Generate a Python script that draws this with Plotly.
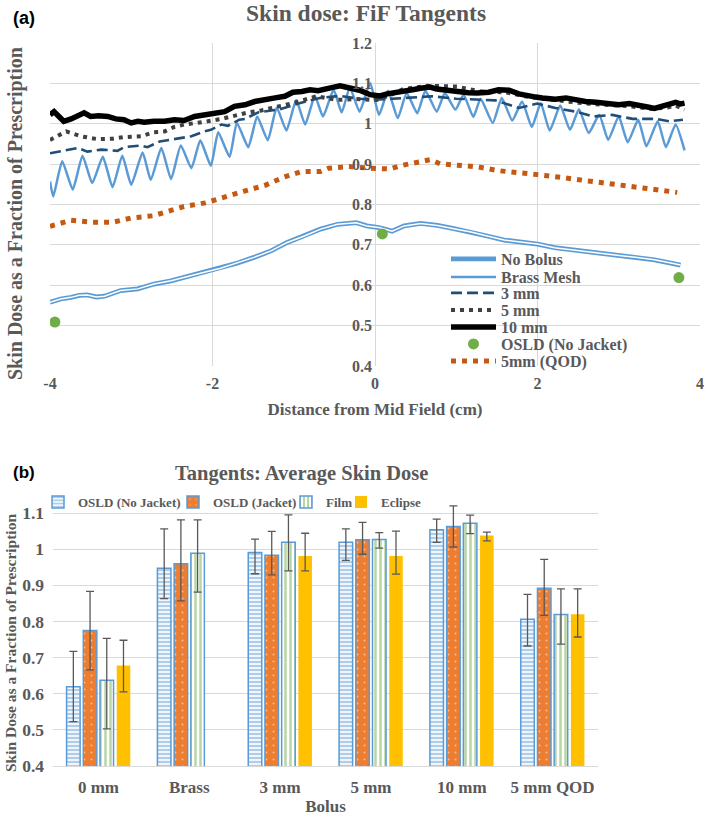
import plotly.graph_objects as go

# ---------------- data: panel (a) ----------------
x_no_bolus = [-4.0, -3.87, -3.74, -3.64, -3.54, -3.43, -3.33, -3.23, -3.13, -2.92, -2.72, -2.51, -2.31, -2.10, -1.90,
              -1.69, -1.49, -1.28, -1.08, -0.87, -0.67, -0.46, -0.23, -0.10, 0.05, 0.21, 0.36, 0.56, 0.77, 0.97,
              1.18, 1.38, 1.59, 1.79, 2.0, 2.21, 2.41, 2.62, 2.82, 3.03, 3.23, 3.44, 3.64, 3.76]
y_no_bolus = [0.558, 0.566, 0.570, 0.575, 0.576, 0.571, 0.573, 0.580, 0.587, 0.591, 0.603, 0.611, 0.622, 0.632, 0.642,
              0.655, 0.669, 0.685, 0.706, 0.722, 0.739, 0.751, 0.755, 0.747, 0.743, 0.734, 0.747, 0.753, 0.748, 0.740,
              0.732, 0.722, 0.712, 0.707, 0.702, 0.693, 0.688, 0.683, 0.677, 0.673, 0.669, 0.663, 0.655, 0.650]

x_brass = [-4.00, -3.96, -3.85, -3.72, -3.60, -3.48, -3.35, -3.23, -3.11, -3.00, -2.86, -2.76, -2.63, -2.51, -2.39,
           -2.26, -2.15, -2.02, -1.93, -1.79, -1.70, -1.56, -1.45, -1.32, -1.21, -1.09, -0.97, -0.86, -0.74, -0.64,
           -0.51, -0.41, -0.31, -0.19, -0.06, 0.05, 0.16, 0.28, 0.39, 0.52, 0.62, 0.76, 0.86, 0.99, 1.09, 1.21,
           1.30, 1.45, 1.56, 1.69, 1.81, 1.93, 2.04, 2.15, 2.28, 2.40, 2.51, 2.63, 2.76, 2.87, 3.00, 3.11, 3.24,
           3.34, 3.48, 3.58, 3.70, 3.81]
y_brass = [0.857, 0.820, 0.907, 0.837, 0.921, 0.853, 0.918, 0.843, 0.921, 0.849, 0.929, 0.861, 0.940, 0.863, 0.946,
           0.890, 0.959, 0.896, 0.979, 0.918, 1.002, 0.942, 1.018, 0.959, 1.040, 0.983, 1.059, 0.998, 1.069, 1.018,
           1.084, 1.028, 1.090, 1.030, 1.101, 1.022, 1.082, 1.014, 1.076, 1.026, 1.082, 1.030, 1.076, 1.035, 1.072,
           1.017, 1.062, 1.002, 1.064, 1.008, 1.055, 0.992, 1.051, 0.983, 1.045, 0.985, 1.036, 0.977, 1.022, 0.960,
           1.018, 0.954, 1.010, 0.944, 1.006, 0.942, 0.998, 0.934]

x_3mm = [-4.0, -3.83, -3.66, -3.54, -3.37, -3.17, -3.09, -2.88, -2.80, -2.65, -2.55, -2.39, -2.26, -2.10, -2.02,
         -1.89, -1.81, -1.67, -1.60, -1.44, -1.36, -1.17, -0.93, -0.68, -0.43, -0.2, 0.05, 0.35, 0.7, 1.0, 1.28,
         1.48, 1.77, 2.0, 2.22, 2.47, 2.68, 2.92, 3.17, 3.46, 3.62, 3.79]
y_3mm = [0.927, 0.934, 0.940, 0.931, 0.936, 0.933, 0.942, 0.946, 0.942, 0.956, 0.959, 0.965, 0.969, 0.981, 0.985,
         0.998, 0.995, 1.010, 1.012, 1.028, 1.030, 1.036, 1.051, 1.064, 1.069, 1.062, 1.060, 1.064, 1.068, 1.062,
         1.059, 1.058, 1.039, 1.050, 1.039, 1.030, 1.018, 1.022, 1.012, 1.012, 1.006, 1.010]

x_5mm = [-4.0, -3.8, -3.62, -3.42, -3.23, -3.09, -2.88, -2.72, -2.59, -2.47, -2.35, -2.18, -2.06, -1.89, -1.73,
         -1.56, -1.40, -1.26, -1.01, -0.72, -0.47, -0.23, 0.02, 0.2, 0.35, 0.64, 1.01, 1.3, 1.6, 1.9, 2.2, 2.5,
         2.8, 3.1, 3.4, 3.6, 3.7, 3.81]
y_5mm = [0.960, 0.981, 0.969, 0.962, 0.963, 0.967, 0.969, 0.979, 0.981, 0.992, 0.998, 1.002, 1.006, 1.012, 1.020,
         1.028, 1.033, 1.039, 1.051, 1.068, 1.059, 1.061, 1.059, 1.072, 1.086, 1.094, 1.092, 1.080, 1.078, 1.066,
         1.058, 1.052, 1.047, 1.044, 1.037, 1.040, 1.045, 1.035]

x_10mm = [-4.0, -3.95, -3.89, -3.83, -3.74, -3.66, -3.58, -3.50, -3.40, -3.29, -3.19, -3.09, -3.00, -2.92, -2.84,
          -2.72, -2.59, -2.47, -2.35, -2.22, -2.10, -1.98, -1.85, -1.73, -1.60, -1.48, -1.36, -1.23, -1.11, -1.01,
          -0.90, -0.80, -0.70, -0.60, -0.52, -0.43, -0.31, -0.19, -0.06, 0.06, 0.15, 0.23, 0.31, 0.39, 0.48, 0.56,
          0.68, 0.76, 0.84, 0.95, 1.05, 1.15, 1.26, 1.40, 1.52, 1.65, 1.77, 1.89, 1.98, 2.06, 2.14, 2.22, 2.35,
          2.47, 2.59, 2.72, 2.80, 2.88, 3.00, 3.13, 3.25, 3.37, 3.44, 3.50, 3.60, 3.70, 3.76, 3.81]
y_10mm = [1.022, 1.030, 1.018, 1.006, 1.012, 1.018, 1.027, 1.018, 1.020, 1.018, 1.012, 1.010, 1.002, 1.006, 1.004,
          1.006, 1.006, 1.010, 1.008, 1.018, 1.022, 1.027, 1.030, 1.043, 1.047, 1.055, 1.058, 1.064, 1.068, 1.078,
          1.080, 1.084, 1.082, 1.088, 1.090, 1.094, 1.088, 1.083, 1.072, 1.069, 1.074, 1.076, 1.080, 1.083, 1.085,
          1.088, 1.091, 1.086, 1.084, 1.080, 1.078, 1.077, 1.076, 1.078, 1.084, 1.083, 1.074, 1.068, 1.066, 1.064,
          1.062, 1.061, 1.064, 1.058, 1.055, 1.053, 1.051, 1.050, 1.047, 1.050, 1.047, 1.041, 1.038, 1.041, 1.045,
          1.053, 1.049, 1.051]

x_osld = [-3.94, 0.09, 3.74]
y_osld = [0.509, 0.727, 0.619]

x_qod = [-4.0, -3.74, -3.48, -3.23, -2.99, -2.73, -2.60, -2.35, -2.09, -1.87, -1.61, -1.36, -1.12, -0.90, -0.67,
         -0.57, -0.32, -0.08, 0.19, 0.31, 0.55, 0.68, 0.80, 1.04, 1.27, 1.51, 1.74, 2.0, 2.25, 2.51, 2.78, 3.02,
         3.29, 3.54, 3.72]
y_qod = [0.746, 0.761, 0.756, 0.756, 0.767, 0.772, 0.780, 0.795, 0.804, 0.816, 0.833, 0.847, 0.868, 0.882, 0.882,
         0.890, 0.894, 0.890, 0.888, 0.896, 0.904, 0.911, 0.901, 0.898, 0.893, 0.884, 0.878, 0.874, 0.868, 0.861,
         0.855, 0.847, 0.840, 0.835, 0.830]

a_x_ticks = [-4, -2, 0, 2, 4]
a_x_ticklabels = ["-4", "-2", "0", "2", "4"]
a_y_ticks = [0.4, 0.5, 0.6, 0.7, 0.8, 0.9, 1.0, 1.1, 1.2]
a_y_ticklabels = ["0.4", "0.5", "0.6", "0.7", "0.8", "0.9", "1", "1.1", "1.2"]

# ---------------- data: panel (b) ----------------
categories = ["0 mm", "Brass", "3 mm", "5 mm", "10 mm", "5 mm QOD"]
osld_nj = [0.619, 0.947, 0.991, 1.019, 1.054, 0.806]
osld_nj_plus = [0.098, 0.109, 0.037, 0.037, 0.029, 0.069]
osld_nj_minus = [0.096, 0.084, 0.059, 0.050, 0.035, 0.074]
osld_j = [0.775, 0.960, 0.983, 1.026, 1.063, 0.892]
osld_j_plus = [0.108, 0.121, 0.066, 0.048, 0.057, 0.080]
osld_j_minus = [0.109, 0.103, 0.054, 0.040, 0.057, 0.075]
film = [0.637, 0.989, 1.019, 1.027, 1.072, 0.819]
film_plus = [0.116, 0.092, 0.076, 0.019, 0.022, 0.071]
film_minus = [0.134, 0.108, 0.079, 0.024, 0.029, 0.082]
eclipse = [0.678, None, 0.981, 0.981, 1.038, 0.820]
eclipse_plus = [0.070, 0.0, 0.063, 0.069, 0.009, 0.070]
eclipse_minus = [0.073, 0.0, 0.041, 0.050, 0.015, 0.063]
b_y_ticks = [0.4, 0.5, 0.6, 0.7, 0.8, 0.9, 1.0, 1.1]
b_y_ticklabels = ["0.4", "0.5", "0.6", "0.7", "0.8", "0.9", "1", "1.1"]

# ---------------- layout helpers ----------------
W, H = 709, 816
def fx(p):
    return p / W
def fy(p):
    return 1 - p / H

SERIF = "Liberation Serif"
GRAY = "#595959"
GRID = "#D9D9D9"
BLUE = "#5B9BD5"

def sfont(size, color=GRAY, family=SERIF):
    return dict(family=family, size=size, color=color, weight="bold")

fig = go.Figure()

# legend slots: one single-entry legend per row (panel a) / per entry (panel b)
a_leg_rows = [259, 277, 293, 310, 327, 344, 361]
a_leg_ids = ["legend", "legend2", "legend3", "legend4", "legend5", "legend6", "legend7"]
b_leg_text_x = [74, 209, 322, 377]
b_leg_ids = ["legend8", "legend9", "legend10", "legend11"]

# ---- panel (a) traces ----
fig.add_trace(go.Scatter(x=x_no_bolus, y=y_no_bolus, mode="lines", name="No Bolus",
                         line=dict(color=BLUE, width=4.8), legend=a_leg_ids[0]))
fig.add_trace(go.Scatter(x=x_no_bolus, y=y_no_bolus, mode="lines", showlegend=False, hoverinfo="skip",
                         line=dict(color="white", width=1.5)))
fig.add_trace(go.Scatter(x=x_brass, y=y_brass, mode="lines", name="Brass Mesh",
                         line=dict(color=BLUE, width=2.5, shape="spline", smoothing=0.5), legend=a_leg_ids[1]))
fig.add_trace(go.Scatter(x=x_3mm, y=y_3mm, mode="lines", name="3 mm",
                         line=dict(color="#1F4E79", width=2.6, dash="11px,5px"), legend=a_leg_ids[2]))
fig.add_trace(go.Scatter(x=x_5mm, y=y_5mm, mode="lines", name="5 mm",
                         line=dict(color="#404040", width=4, dash="4px,5px"), legend=a_leg_ids[3]))
fig.add_trace(go.Scatter(x=x_10mm, y=y_10mm, mode="lines", name="10 mm",
                         line=dict(color="black", width=5.5), legend=a_leg_ids[4]))
fig.add_trace(go.Scatter(x=x_osld, y=y_osld, mode="markers", name="OSLD (No Jacket)",
                         marker=dict(color="#70AD47", size=11), legend=a_leg_ids[5]))
fig.add_trace(go.Scatter(x=x_qod, y=y_qod, mode="lines", name="5mm (QOD)",
                         line=dict(color="#C65911", width=5, dash="5px,6px"), legend=a_leg_ids[6]))

# ---- panel (b) traces ----
def err(plus, minus):
    return dict(type="data", symmetric=False, array=plus, arrayminus=minus,
                color=GRAY, thickness=1.3, width=4)

fig.add_trace(go.Bar(x=categories, y=osld_nj, name="OSLD (No Jacket)", xaxis="x2", yaxis="y2", legend=b_leg_ids[0],
                     marker=dict(color="white", line=dict(color=BLUE, width=1.5),
                                 pattern=dict(shape="-", fgcolor=BLUE, bgcolor="white", size=4, solidity=0.6)),
                     error_y=err(osld_nj_plus, osld_nj_minus)))
fig.add_trace(go.Bar(x=categories, y=osld_j, name="OSLD (Jacket)", xaxis="x2", yaxis="y2", legend=b_leg_ids[1],
                     marker=dict(color="#ED7D31", line=dict(color=BLUE, width=1.5),
                                 pattern=dict(shape=".", fgcolor="white", bgcolor="#ED7D31", size=7, solidity=0.06)),
                     error_y=err(osld_j_plus, osld_j_minus)))
fig.add_trace(go.Bar(x=categories, y=film, name="Film", xaxis="x2", yaxis="y2", legend=b_leg_ids[2],
                     marker=dict(color="white", line=dict(color=BLUE, width=1.5),
                                 pattern=dict(shape="|", fgcolor="#70AD47", bgcolor="white", size=5, solidity=0.5)),
                     error_y=err(film_plus, film_minus)))
fig.add_trace(go.Bar(x=categories, y=eclipse, name="Eclipse", xaxis="x2", yaxis="y2", legend=b_leg_ids[3],
                     marker=dict(color="#FFC000", line=dict(width=0)),
                     error_y=err(eclipse_plus, eclipse_minus)))

a_xdom = [fx(50), fx(700)]
fig.update_layout(
    width=W, height=H, margin=dict(l=0, r=0, t=0, b=0, pad=0, autoexpand=False),
    paper_bgcolor="white", plot_bgcolor="white", hovermode=False,
    barmode="group", bargap=0.264, bargroupgap=0.19,
    xaxis=dict(domain=a_xdom, anchor="y", range=[-4, 4], tickvals=a_x_ticks, ticktext=a_x_ticklabels,
               showgrid=True, gridcolor=GRID, gridwidth=1, zeroline=False, showline=False, ticks="",
               tickfont=sfont(16), ticklabelstandoff=6, automargin=False,
               title=dict(text="Distance from Mid Field (cm)", font=sfont(17), standoff=12)),
    yaxis=dict(domain=[fy(366), fy(43)], anchor="free", position=(a_xdom[0] + a_xdom[1]) / 2,
               range=[0.4, 1.2], tickvals=a_y_ticks, ticktext=a_y_ticklabels, automargin=False,
               showgrid=True, gridcolor=GRID, gridwidth=1, zeroline=False, showline=False, ticks="",
               tickfont=sfont(16), ticklabelstandoff=3),
    xaxis2=dict(domain=[fx(53), fx(598)], anchor="y2", type="category", showgrid=False, automargin=False,
                showline=True, linecolor=GRID, linewidth=1, ticks="", tickfont=sfont(17), ticklabelstandoff=6,
                title=dict(text="Bolus", font=sfont(17), standoff=5)),
    yaxis2=dict(domain=[fy(766), fy(504)], anchor="x2", range=[0.4, 1.125], tickvals=b_y_ticks,
                ticktext=b_y_ticklabels, showgrid=True, gridcolor=GRID, gridwidth=1, zeroline=False,
                showline=False, ticks="", tickfont=sfont(17.5), ticklabelstandoff=8, automargin=False),
    showlegend=True,
)

leg_layout = {}
for lid, row in zip(a_leg_ids, a_leg_rows):
    leg_layout[lid] = dict(x=fx(446), y=fy(row), xanchor="left", yanchor="middle", bgcolor="rgba(0,0,0,0)",
                           font=sfont(16), itemwidth=45, borderwidth=0)
for lid, tx in zip(b_leg_ids, b_leg_text_x):
    leg_layout[lid] = dict(x=fx(tx - 36), y=fy(502), xanchor="left", yanchor="middle", orientation="h",
                           bgcolor="rgba(0,0,0,0)", font=sfont(13), itemwidth=30, borderwidth=0)
fig.update_layout(**leg_layout)

annots = [
    dict(text="Skin dose: FiF Tangents", x=fx(366), y=fy(13), font=sfont(23.5)),
    dict(text="(a)", x=fx(24), y=fy(18), font=sfont(18, "black", "Liberation Sans")),
    dict(text="Tangents: Average Skin Dose", x=fx(301), y=fy(473), font=sfont(20.5)),
    dict(text="(b)", x=fx(24), y=fy(472), font=sfont(17, "black", "Liberation Sans")),
    dict(text="Skin Dose as a Fraction of Prescription", x=fx(16), y=fy(214), textangle=-90, font=sfont(20)),
    dict(text="Skin Dose as a Fraction of Prescription", x=fx(10), y=fy(643), textangle=-90, font=sfont(15.5)),
]
for a in annots:
    fig.add_annotation(xref="paper", yref="paper", showarrow=False, xanchor="center", yanchor="middle", **a)

# the page's default 8px body margin would push the figure off the window edge
fig.write_html("out.html", config={"displayModeBar": False},
               post_script="document.body.style.margin='0px';")
